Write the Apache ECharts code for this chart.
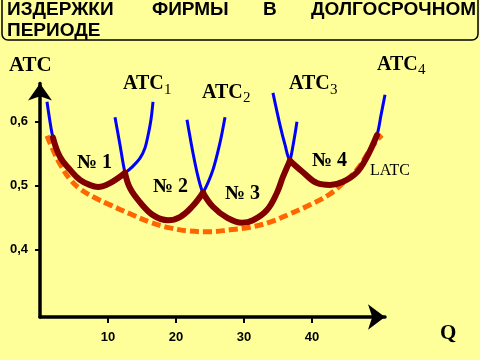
<!DOCTYPE html>
<html><head><meta charset="utf-8">
<script src="https://cdn.jsdelivr.net/npm/echarts@6/dist/echarts.min.js"></script>
<style>html,body{margin:0;padding:0;background:#FFFF99;}#c{width:480px;height:360px;}</style>
</head><body><div id="c"></div>
<script>
const xTicks = [10, 20, 30, 40];
const yTicks = [0.4, 0.5, 0.6];
const titleWords = ['ИЗДЕРЖКИ', 'ФИРМЫ', 'В', 'ДОЛГОСРОЧНОМ'];
const titleLine2 = 'ПЕРИОДЕ';
const atc1 = [[1.03,0.631],[1.47,0.600],[1.91,0.575],[2.94,0.545],[4.41,0.525],[5.88,0.509],[7.35,0.501],[8.53,0.498],[10.29,0.504],[12.50,0.520],[13.53,0.529],[14.71,0.543],[15.44,0.559],[15.88,0.578],[16.32,0.603],[16.62,0.631]];
const atc2 = [[11.03,0.607],[11.76,0.564],[12.50,0.520],[13.24,0.496],[14.71,0.474],[16.62,0.454],[18.82,0.446],[20.59,0.451],[22.35,0.467],[23.97,0.489],[25.44,0.525],[26.47,0.567],[27.21,0.607]];
const atc3 = [[21.62,0.603],[22.50,0.551],[23.24,0.514],[23.97,0.489],[25.44,0.467],[27.50,0.450],[29.71,0.442],[31.32,0.446],[33.38,0.462],[34.85,0.489],[35.74,0.514],[36.76,0.539],[37.35,0.571],[37.79,0.600]];
const atc4 = [[34.26,0.645],[35.29,0.595],[36.03,0.564],[36.76,0.539],[38.68,0.521],[40.74,0.504],[42.65,0.501],[44.56,0.506],[46.62,0.521],[48.09,0.545],[49.56,0.579],[50.15,0.610],[50.74,0.642]];
const latc = [[1.03,0.578],[1.91,0.556],[3.09,0.531],[4.41,0.510],[5.88,0.495],[8.09,0.481],[10.29,0.470],[13.24,0.456],[16.18,0.443],[19.12,0.434],[22.06,0.429],[25.00,0.428],[27.94,0.431],[30.88,0.435],[33.82,0.443],[36.76,0.456],[39.71,0.470],[42.65,0.487],[44.85,0.507],[46.62,0.525],[48.24,0.551],[49.56,0.571],[50.29,0.579]];
// envelope built from the short-run curves between their intersections
const envelope = [atc1.slice(2, 10), atc2.slice(2, 10), atc3.slice(3, 12), atc4.slice(3, 11)];

const chart = echarts.init(document.getElementById('c'));
const SERIF = 'Liberation Serif, Times New Roman, serif';
const SANS = 'Liberation Sans, Arial, sans-serif';
function T(text, x, y, size, weight, family, align) {
  return {type: 'text', x: x, y: y, z: 100,
    style: {text: text, fontSize: size, fontWeight: weight, fontFamily: family, fill: '#000',
      align: align || 'left', verticalAlign: 'middle'}};
}
const series = [];
series.push({type: 'line', data: latc, smooth: 0.4, symbol: 'none', clip: false, z: 2,
  lineStyle: {color: '#FF6600', width: 5, type: [9, 4]}});
[atc1, atc2, atc3, atc4].forEach(d => series.push({type: 'line', data: d, smooth: 0.3, symbol: 'none', clip: false, z: 3,
  lineStyle: {color: '#0000FF', width: 3}}));
envelope.forEach(d => series.push({type: 'line', data: d, smooth: 0.4, symbol: 'none', clip: false, z: 4,
  lineStyle: {color: '#800000', width: 6, cap: 'round', join: 'round'}}));

const axisLabelStyle = {fontFamily: SANS, fontWeight: 'bold', fontSize: 13, color: '#000'};
chart.setOption({
  backgroundColor: '#FFFF99',
  animation: false,
  grid: {left: 40, right: 95, top: 83.5, bottom: 43},
  xAxis: {type: 'value', min: 0, max: 50.74,
    axisLine: {show: true, lineStyle: {color: '#000', width: 3.5}, symbol: ['none', 'arrow'], symbolSize: [19, 17]},
    axisTick: {show: true, customValues: xTicks, length: 6, lineStyle: {color: '#000', width: 2}},
    axisLabel: Object.assign({customValues: xTicks, margin: 14}, axisLabelStyle),
    splitLine: {show: false}},
  yAxis: {type: 'value', min: 0.2948, max: 0.6596,
    axisLine: {show: true, lineStyle: {color: '#000', width: 3.5}, symbol: ['none', 'arrow'], symbolSize: [18, 17]},
    axisTick: {show: true, customValues: yTicks, length: 5, lineStyle: {color: '#000', width: 2}},
    axisLabel: Object.assign({customValues: yTicks, margin: 12, formatter: v => v.toFixed(1).replace('.', ',')}, axisLabelStyle),
    splitLine: {show: false}},
  series: series,
  graphic: [
    {type: 'rect', shape: {x: 2, y: -10, width: 476, height: 50, r: 6}, style: {fill: 'none', stroke: '#000', lineWidth: 1.5}},
    T(titleWords[0], 7, 9.5, 19, 'bold', SANS),
    T(titleWords[1], 152, 9.5, 19, 'bold', SANS),
    T(titleWords[2], 263, 9.5, 19, 'bold', SANS),
    T(titleWords[3], 476, 9.5, 19, 'bold', SANS, 'right'),
    T(titleLine2, 7, 30.5, 19, 'bold', SANS),
    T('ATC', 9, 65.5, 21, 'bold', SERIF),
    T('Q', 440, 334, 21, 'bold', SERIF),
    T('ATC', 123, 84, 20, 'bold', SERIF), T('1', 164, 90, 15, 'normal', SERIF),
    T('ATC', 202, 92.5, 20, 'bold', SERIF), T('2', 243, 98, 15, 'normal', SERIF),
    T('ATC', 289, 84, 20, 'bold', SERIF), T('3', 330, 90, 15, 'normal', SERIF),
    T('ATC', 377, 64.5, 20, 'bold', SERIF), T('4', 418, 70, 15, 'normal', SERIF),
    T('№ 1', 77, 163, 20, 'bold', SERIF),
    T('№ 2', 153, 186.5, 20, 'bold', SERIF),
    T('№ 3', 225, 194, 20, 'bold', SERIF),
    T('№ 4', 312, 160.5, 20, 'bold', SERIF),
    T('LATC', 370, 170.5, 16, 'normal', SERIF)
  ]
});
</script></body></html>
